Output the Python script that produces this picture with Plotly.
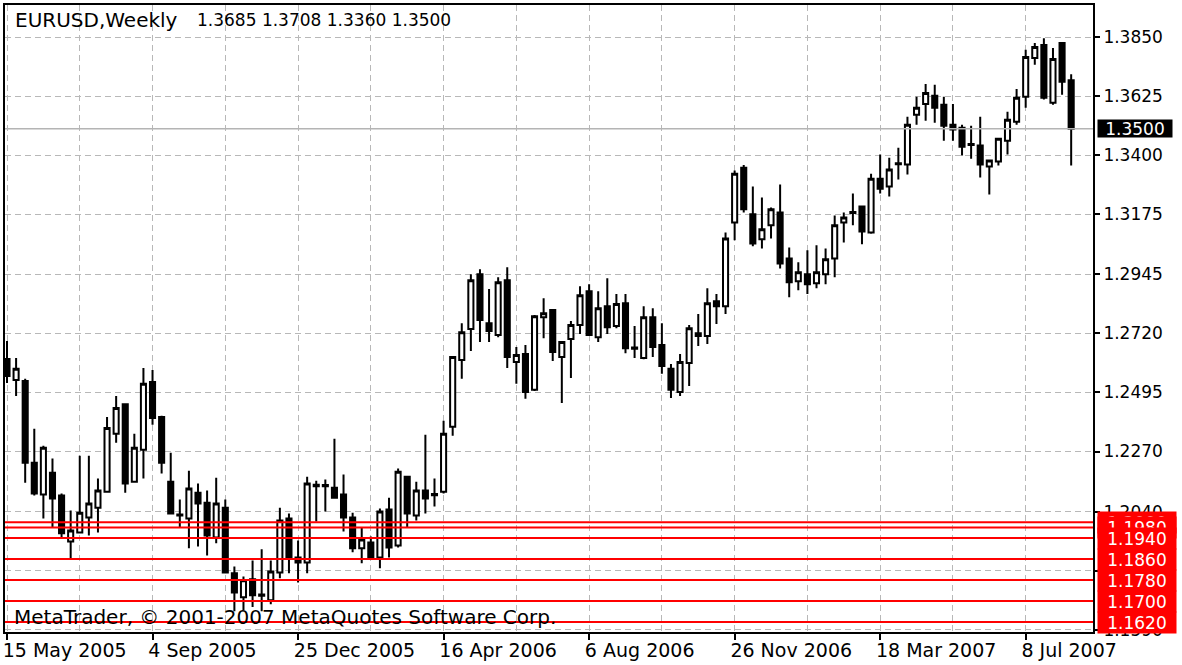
import plotly.graph_objects as go

# ---------------- data ----------------
opens = [1.2623, 1.2543, 1.2539, 1.2227, 1.2106, 1.2189, 1.2102, 1.1927, 1.1961, 1.2018,
         1.2056, 1.2117, 1.2338, 1.2450, 1.2155, 1.2277, 1.2535, 1.2402, 1.2155, 1.2030,
         1.2015, 1.2113, 1.2075, 1.1942, 1.2056, 1.1806, 1.1714, 1.1783, 1.1725, 1.1703,
         1.1809, 1.2015, 1.1866, 1.1847, 1.2143, 1.2138, 1.2132, 1.2106, 1.2018, 1.1901,
         1.1923, 1.1866, 1.2049, 1.1912, 1.2174, 1.2026, 1.2121, 1.2103, 1.2117, 1.2364,
         1.2619, 1.2737, 1.2946, 1.2759, 1.2714, 1.2923, 1.2611, 1.2642, 1.2505, 1.2782,
         1.2809, 1.2630, 1.2699, 1.2752, 1.2881, 1.2706, 1.2824, 1.2748, 1.2835, 1.2666,
         1.2626, 1.2782, 1.2676, 1.2585, 1.2497, 1.2607, 1.2721, 1.2710, 1.2843, 1.2824,
         1.3143, 1.3352, 1.3174, 1.3079, 1.3132, 1.3181, 1.3006, 1.2919, 1.2946, 1.2911,
         1.2946, 1.3006, 1.3143, 1.3179, 1.3204, 1.3105, 1.3310, 1.3280, 1.3365, 1.3364,
         1.3554, 1.3595, 1.3626, 1.3592, 1.3516, 1.3504, 1.3438, 1.3436, 1.3356, 1.3375,
         1.3455, 1.3527, 1.3622, 1.3770, 1.3820, 1.3599, 1.3827, 1.3685]
highs = [1.2691, 1.2626, 1.2547, 1.2357, 1.2292, 1.2243, 1.2110, 1.2045, 1.2254, 1.2254,
         1.2167, 1.2402, 1.2482, 1.2452, 1.2338, 1.2588, 1.2581, 1.2406, 1.2265, 1.2087,
         1.2197, 1.2148, 1.2121, 1.2170, 1.2087, 1.1832, 1.1794, 1.1855, 1.1897, 1.1855,
         1.2056, 1.2034, 1.1931, 1.2174, 1.2159, 1.2163, 1.2319, 1.2182, 1.2037, 1.1980,
         1.1946, 1.2053, 1.2094, 1.2205, 1.2178, 1.2155, 1.2334, 1.2167, 1.2387, 1.2634,
         1.2759, 1.2946, 1.2965, 1.2889, 1.2934, 1.2972, 1.2668, 1.2676, 1.2790, 1.2854,
         1.2813, 1.2691, 1.2767, 1.2900, 1.2908, 1.2881, 1.2930, 1.2870, 1.2870, 1.2748,
         1.2824, 1.2816, 1.2759, 1.2604, 1.2642, 1.2752, 1.2794, 1.2892, 1.2870, 1.3105,
         1.3341, 1.3362, 1.3280, 1.3238, 1.3200, 1.3288, 1.3048, 1.2991, 1.3037, 1.3056,
         1.3044, 1.3170, 1.3181, 1.3253, 1.3208, 1.3329, 1.3402, 1.3390, 1.3428, 1.3546,
         1.3622, 1.3671, 1.3668, 1.3622, 1.3595, 1.3516, 1.3512, 1.3546, 1.3383, 1.3466,
         1.3565, 1.3652, 1.3801, 1.3827, 1.3845, 1.3808, 1.3830, 1.3708]
lows = [1.2531, 1.2482, 1.2151, 1.2102, 1.2015, 1.1980, 1.1942, 1.1863, 1.1958, 1.1950,
        1.1961, 1.2113, 1.2303, 1.2113, 1.2151, 1.2167, 1.2372, 1.2186, 1.2030, 1.1980,
        1.1901, 1.1908, 1.1874, 1.1920, 1.1806, 1.1661, 1.1665, 1.1677, 1.1661, 1.1688,
        1.1787, 1.1806, 1.1771, 1.1806, 1.2003, 1.2041, 1.2090, 1.1965, 1.1886, 1.1844,
        1.1860, 1.1825, 1.1866, 1.1904, 1.1980, 1.2007, 1.2034, 1.2060, 1.2110, 1.2330,
        1.2547, 1.2653, 1.2687, 1.2687, 1.2706, 1.2588, 1.2528, 1.2471, 1.2501, 1.2702,
        1.2615, 1.2455, 1.2550, 1.2718, 1.2710, 1.2687, 1.2718, 1.2740, 1.2645, 1.2626,
        1.2622, 1.2630, 1.2566, 1.2474, 1.2482, 1.2520, 1.2672, 1.2680, 1.2756, 1.2794,
        1.3075, 1.3181, 1.3052, 1.3044, 1.3082, 1.2968, 1.2858, 1.2885, 1.2870, 1.2892,
        1.2908, 1.2934, 1.3067, 1.3132, 1.3060, 1.3100, 1.3253, 1.3242, 1.3307, 1.3326,
        1.3516, 1.3531, 1.3523, 1.3455, 1.3455, 1.3398, 1.3386, 1.3314, 1.3250, 1.3360,
        1.3402, 1.3516, 1.3580, 1.3744, 1.3612, 1.3592, 1.3630, 1.3360]
closes = [1.2558, 1.2585, 1.2227, 1.2110, 1.2284, 1.2091, 1.1958, 1.1969, 1.2037, 1.2072,
          1.2121, 1.2360, 1.2436, 1.2148, 1.2284, 1.2528, 1.2398, 1.2227, 1.2034, 1.2026,
          1.2129, 1.2072, 1.1950, 1.2072, 1.1809, 1.1733, 1.1779, 1.1722, 1.1720, 1.1813,
          1.2007, 1.1866, 1.1847, 1.2148, 1.2138, 1.2142, 1.2094, 1.2018, 1.1901, 1.1935,
          1.1866, 1.2041, 1.1904, 1.2193, 1.2034, 1.2121, 1.2091, 1.2108, 1.2338, 1.2630,
          1.2725, 1.2923, 1.2771, 1.2729, 1.2915, 1.2630, 1.2638, 1.2497, 1.2786, 1.2797,
          1.2649, 1.2687, 1.2752, 1.2866, 1.2714, 1.2816, 1.2744, 1.2832, 1.2664, 1.2662,
          1.2782, 1.2668, 1.2596, 1.2505, 1.2611, 1.2740, 1.2710, 1.2835, 1.2824, 1.3082,
          1.3329, 1.3193, 1.3063, 1.3117, 1.3193, 1.2987, 1.2915, 1.2953, 1.2908, 1.2953,
          1.3003, 1.3132, 1.3162, 1.3183, 1.3109, 1.3310, 1.3272, 1.3345, 1.3369, 1.3516,
          1.3580, 1.3637, 1.3580, 1.3512, 1.3497, 1.3432, 1.3442, 1.3364, 1.3379, 1.3462,
          1.3535, 1.3618, 1.3774, 1.3812, 1.3618, 1.3766, 1.3679, 1.3500]

date_tick_bars = [0, 16, 32, 48, 64, 80, 96, 112]
date_labels = ["15 May 2005", "4 Sep 2005", "25 Dec 2005", "16 Apr 2006",
               "6 Aug 2006", "26 Nov 2006", "18 Mar 2007", "8 Jul 2007"]
grid_bars = list(range(0, 120, 8))
price_ticks = [1.1590, 1.1815, 1.2040, 1.2270, 1.2495, 1.2720,
               1.2945, 1.3175, 1.3400, 1.3625, 1.3850]
level_prices = [1.2000, 1.1980, 1.1940, 1.1860, 1.1780, 1.1700, 1.1620]
current_price = 1.3500
title_symbol = "EURUSD,Weekly"
title_ohlc = [1.3685, 1.3708, 1.3360, 1.3500]
copyright_text = "MetaTrader, © 2001-2007 MetaQuotes Software Corp."

bars = list(range(len(opens)))
FONT = "DejaVu Sans"
GRID = "#b8b8b8"

fig = go.Figure()
fig.add_trace(go.Candlestick(
    x=bars, open=opens, high=highs, low=lows, close=closes,
    increasing=dict(line=dict(color="black", width=2), fillcolor="white"),
    decreasing=dict(line=dict(color="black", width=2), fillcolor="black"),
    whiskerwidth=0, hoverinfo="skip", showlegend=False,
))

shapes = []
shapes.append(dict(type="line", xref="paper", x0=0, x1=1, yref="y",
                   y0=current_price, y1=current_price,
                   line=dict(color="#b4b4b4", width=1.5), layer="above"))
for lv in level_prices:
    shapes.append(dict(type="line", xref="paper", x0=0, x1=1, yref="y",
                       y0=lv, y1=lv, line=dict(color="#ff0000", width=2),
                       layer="above"))

annotations = [
    dict(xref="paper", yref="paper", x=0, y=1, xanchor="left", yanchor="middle",
         xshift=8, yshift=-15, text=title_symbol, showarrow=False,
         font=dict(family=FONT, size=20, color="black")),
    dict(xref="paper", yref="paper", x=0, y=1, xanchor="left", yanchor="middle",
         xshift=190, yshift=-15, text=" ".join(f"{v:.4f}" for v in title_ohlc),
         showarrow=False, font=dict(family=FONT, size=17, color="black")),
    dict(xref="paper", yref="paper", x=0, y=0, xanchor="left", yanchor="middle",
         xshift=7, yshift=15, text=copyright_text, showarrow=False,
         font=dict(family=FONT, size=20, color="black")),
    dict(xref="paper", yref="y", x=1, y=current_price, xanchor="left",
         yanchor="middle", xshift=4, text=f"{current_price:.4f}", showarrow=False,
         bgcolor="black", width=74, height=17, align="center", borderpad=0,
         font=dict(family=FONT, size=17, color="white")),
]
for lv in level_prices:
    annotations.append(dict(
        xref="paper", yref="y", x=1, y=lv, xanchor="left", yanchor="middle",
        xshift=4, text=f"{lv:.4f}", showarrow=False, bgcolor="#ff0000",
        width=78, height=21, align="center", borderpad=0,
        font=dict(family=FONT, size=17, color="white")))

fig.update_layout(
    width=1182, height=665,
    margin=dict(l=5, r=89, t=3, b=33),
    paper_bgcolor="white", plot_bgcolor="white",
    showlegend=False, boxgap=0.3, boxgroupgap=0.2,
    shapes=shapes, annotations=annotations,
    xaxis=dict(
        range=[-0.22, 119.4], tickmode="array", tickvals=date_tick_bars,
        ticktext=date_labels, ticks="outside", ticklen=6, tickwidth=1.5,
        tickcolor="black", ticklabelposition="outside right", ticklabelshift=-6,
        tickfont=dict(family=FONT, size=19, color="black"),
        showgrid=True, gridcolor=GRID, gridwidth=1, griddash="6px,4px",
        minor=dict(tickmode="array", tickvals=grid_bars, showgrid=True,
                   gridcolor=GRID, gridwidth=1, griddash="6px,4px", ticks=""),
        showline=True, linecolor="black", linewidth=2, mirror=True,
        zeroline=False, rangeslider=dict(visible=False), fixedrange=True,
    ),
    yaxis=dict(
        side="right", range=[1.1582, 1.3972], tickmode="array",
        tickvals=price_ticks, ticktext=[f"{v:.4f}" for v in price_ticks],
        ticks="outside", ticklen=5, tickwidth=1.5, tickcolor="black",
        tickfont=dict(family=FONT, size=17, color="black"),
        showgrid=True, gridcolor=GRID, gridwidth=1, griddash="6px,4px",
        showline=True, linecolor="black", linewidth=2, mirror=True,
        zeroline=False, fixedrange=True,
    ),
)

fig.write_html("out.html", config={"displayModeBar": False},
               post_script="document.body.style.margin='0';"
                           "document.body.style.padding='0';"
                           "document.body.style.overflow='hidden';")
